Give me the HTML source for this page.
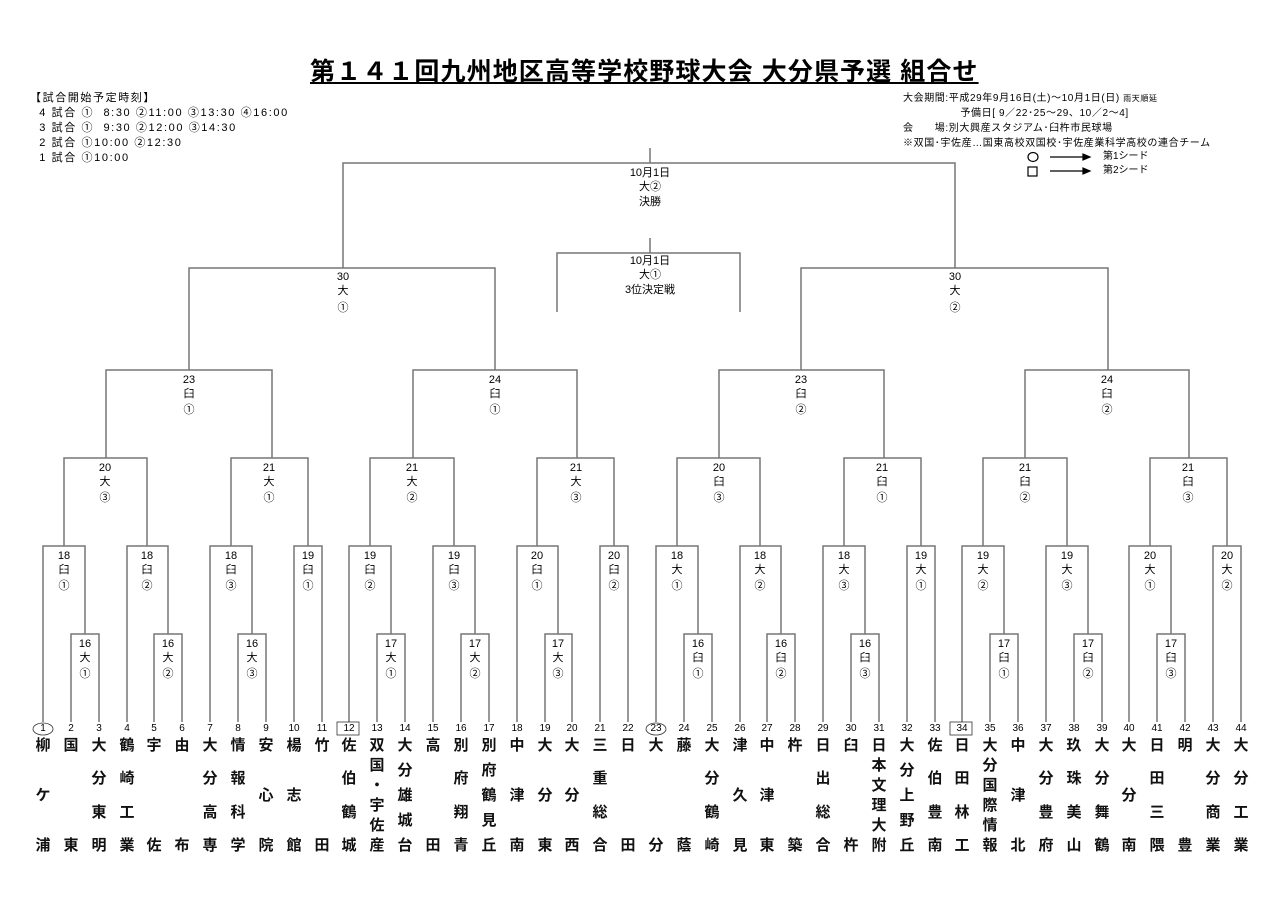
<!DOCTYPE html>
<html><head><meta charset="utf-8"><style>
body{margin:0;background:#fff;width:1283px;height:906px;overflow:hidden;position:relative;font-family:"Liberation Sans","Noto Sans CJK JP",sans-serif;color:#000}
.t{position:absolute;white-space:nowrap}
.nm{position:absolute;top:737px;height:118px;width:24px;display:flex;flex-direction:column;justify-content:space-between;align-items:center;font-size:15px;line-height:18px;font-weight:bold;color:#111}
.nm span{display:block}
.no{position:absolute;top:722px;width:24px;text-align:center;font-size:10px;line-height:14px}
</style></head><body>
<div class="t" style="left:310px;top:52px;font-size:25px;font-weight:bold;text-decoration:underline;letter-spacing:1.1px">第１４１回九州地区高等学校野球大会 大分県予選 組合せ</div>
<div class="t" style="left:30px;top:91px;font-size:11px;line-height:15px;letter-spacing:1.6px">【試合開始予定時刻】<br>&nbsp;&nbsp;4 試合 ① &nbsp;8:30 ②11:00 ③13:30 ④16:00<br>&nbsp;&nbsp;3 試合 ① &nbsp;9:30 ②12:00 ③14:30<br>&nbsp;&nbsp;2 試合 ①10:00 ②12:30<br>&nbsp;&nbsp;1 試合 ①10:00</div>
<div class="t" style="left:903px;top:91px;font-size:10px;line-height:15px;letter-spacing:0.6px">大会期間:平成29年9月16日(土)～10月1日(日) <span style="font-size:8px">雨天順延</span><br>&nbsp;&nbsp;&nbsp;&nbsp;&nbsp;&nbsp;&nbsp;&nbsp;&nbsp;&nbsp;&nbsp;&nbsp;&nbsp;&nbsp;&nbsp;&nbsp;&nbsp;予備日[ 9／22･25～29、10／2～4]<br>会　　場:別大興産スタジアム･臼杵市民球場<br>※双国･宇佐産…国東高校双国校･宇佐産業科学高校の連合チーム</div>
<div class="t" style="left:1103px;top:150px;font-size:10px;line-height:14px">第1シード<br>第2シード</div>
<svg width="1283" height="906" style="position:absolute;left:0;top:0" font-family="Liberation Sans, Noto Sans CJK JP, sans-serif" font-size="11" text-anchor="middle">
<g fill="none" stroke="#000" stroke-width="1.2">
<ellipse cx="1033" cy="157" rx="5" ry="4.5"/><rect x="1028" y="167" width="9" height="9"/>
<path d="M1050 157H1088M1050 171H1088"/>
<path d="M1083 154L1090 157L1083 160ZM1083 168L1090 171L1083 174Z" fill="#000"/>
</g>
<g fill="none" stroke="#777" stroke-width="1.5">
<path d="M71 722V634H99V722"/><path d="M43 722V546H85V634"/>
<path d="M154 722V634H182V722"/><path d="M127 722V546H168V634"/>
<path d="M64 546V458H147V546"/>
<path d="M238 722V634H266V722"/><path d="M210 722V546H252V634"/>
<path d="M294 722V546H322V722"/><path d="M231 546V458H308V546"/>
<path d="M106 458V370H272V458"/>
<path d="M377 722V634H405V722"/><path d="M349 722V546H391V634"/>
<path d="M461 722V634H489V722"/><path d="M433 722V546H475V634"/>
<path d="M370 546V458H454V546"/>
<path d="M545 722V634H572V722"/><path d="M517 722V546H558V634"/>
<path d="M600 722V546H628V722"/><path d="M537 546V458H614V546"/>
<path d="M413 458V370H577V458"/>
<path d="M189 370V268H495V370"/>
<path d="M343 268V163H955V268M650 163V148"/>
<path d="M557 312V253H740V312M650 253V238"/>
<path d="M684 722V634H712V722"/><path d="M656 722V546H698V634"/>
<path d="M767 722V634H795V722"/><path d="M740 722V546H781V634"/>
<path d="M677 546V458H760V546"/>
<path d="M851 722V634H879V722"/><path d="M823 722V546H865V634"/>
<path d="M907 722V546H935V722"/><path d="M844 546V458H921V546"/>
<path d="M719 458V370H884V458"/>
<path d="M990 722V634H1018V722"/><path d="M962 722V546H1004V634"/>
<path d="M1074 722V634H1102V722"/><path d="M1046 722V546H1088V634"/>
<path d="M983 546V458H1067V546"/>
<path d="M1157 722V634H1185V722"/><path d="M1129 722V546H1171V634"/>
<path d="M1213 722V546H1241V722"/><path d="M1150 546V458H1227V546"/>
<path d="M1025 458V370H1189V458"/>
<path d="M801 370V268H1108V370"/>
</g>
<g fill="none" stroke="#333" stroke-width="0.8">
<ellipse cx="43" cy="729" rx="10" ry="6"/><rect x="337" y="722" width="22" height="13"/>
<ellipse cx="656" cy="729" rx="10" ry="6"/><rect x="950" y="722" width="22" height="13"/>
</g>
<g>
<text x="650" y="176">10月1日</text><text x="650" y="190">大②</text><text x="650" y="205">決勝</text>
<text x="650" y="264">10月1日</text><text x="650" y="278">大①</text><text x="650" y="293">3位決定戦</text>
<text x="343" y="280">30</text><text x="343" y="294">大</text><text x="343" y="311">①</text>
<text x="955" y="280">30</text><text x="955" y="294">大</text><text x="955" y="311">②</text>
<text x="189" y="383">23</text><text x="189" y="397">臼</text><text x="189" y="413">①</text>
<text x="495" y="383">24</text><text x="495" y="397">臼</text><text x="495" y="413">①</text>
<text x="801" y="383">23</text><text x="801" y="397">臼</text><text x="801" y="413">②</text>
<text x="1107" y="383">24</text><text x="1107" y="397">臼</text><text x="1107" y="413">②</text>
<text x="105" y="471">20</text><text x="105" y="485">大</text><text x="105" y="501">③</text>
<text x="269" y="471">21</text><text x="269" y="485">大</text><text x="269" y="501">①</text>
<text x="412" y="471">21</text><text x="412" y="485">大</text><text x="412" y="501">②</text>
<text x="576" y="471">21</text><text x="576" y="485">大</text><text x="576" y="501">③</text>
<text x="719" y="471">20</text><text x="719" y="485">臼</text><text x="719" y="501">③</text>
<text x="882" y="471">21</text><text x="882" y="485">臼</text><text x="882" y="501">①</text>
<text x="1025" y="471">21</text><text x="1025" y="485">臼</text><text x="1025" y="501">②</text>
<text x="1188" y="471">21</text><text x="1188" y="485">臼</text><text x="1188" y="501">③</text>
<text x="64" y="559">18</text><text x="64" y="573">臼</text><text x="64" y="589">①</text>
<text x="147" y="559">18</text><text x="147" y="573">臼</text><text x="147" y="589">②</text>
<text x="231" y="559">18</text><text x="231" y="573">臼</text><text x="231" y="589">③</text>
<text x="308" y="559">19</text><text x="308" y="573">臼</text><text x="308" y="589">①</text>
<text x="370" y="559">19</text><text x="370" y="573">臼</text><text x="370" y="589">②</text>
<text x="454" y="559">19</text><text x="454" y="573">臼</text><text x="454" y="589">③</text>
<text x="537" y="559">20</text><text x="537" y="573">臼</text><text x="537" y="589">①</text>
<text x="614" y="559">20</text><text x="614" y="573">臼</text><text x="614" y="589">②</text>
<text x="677" y="559">18</text><text x="677" y="573">大</text><text x="677" y="589">①</text>
<text x="760" y="559">18</text><text x="760" y="573">大</text><text x="760" y="589">②</text>
<text x="844" y="559">18</text><text x="844" y="573">大</text><text x="844" y="589">③</text>
<text x="921" y="559">19</text><text x="921" y="573">大</text><text x="921" y="589">①</text>
<text x="983" y="559">19</text><text x="983" y="573">大</text><text x="983" y="589">②</text>
<text x="1067" y="559">19</text><text x="1067" y="573">大</text><text x="1067" y="589">③</text>
<text x="1150" y="559">20</text><text x="1150" y="573">大</text><text x="1150" y="589">①</text>
<text x="1227" y="559">20</text><text x="1227" y="573">大</text><text x="1227" y="589">②</text>
<text x="85" y="647">16</text><text x="85" y="661">大</text><text x="85" y="677">①</text>
<text x="168" y="647">16</text><text x="168" y="661">大</text><text x="168" y="677">②</text>
<text x="252" y="647">16</text><text x="252" y="661">大</text><text x="252" y="677">③</text>
<text x="391" y="647">17</text><text x="391" y="661">大</text><text x="391" y="677">①</text>
<text x="475" y="647">17</text><text x="475" y="661">大</text><text x="475" y="677">②</text>
<text x="558" y="647">17</text><text x="558" y="661">大</text><text x="558" y="677">③</text>
<text x="698" y="647">16</text><text x="698" y="661">臼</text><text x="698" y="677">①</text>
<text x="781" y="647">16</text><text x="781" y="661">臼</text><text x="781" y="677">②</text>
<text x="865" y="647">16</text><text x="865" y="661">臼</text><text x="865" y="677">③</text>
<text x="1004" y="647">17</text><text x="1004" y="661">臼</text><text x="1004" y="677">①</text>
<text x="1088" y="647">17</text><text x="1088" y="661">臼</text><text x="1088" y="677">②</text>
<text x="1171" y="647">17</text><text x="1171" y="661">臼</text><text x="1171" y="677">③</text>
</g>
</svg>
<div class="no" style="left:31px">1</div><div class="no" style="left:59px">2</div><div class="no" style="left:87px">3</div><div class="no" style="left:115px">4</div><div class="no" style="left:142px">5</div><div class="no" style="left:170px">6</div><div class="no" style="left:198px">7</div><div class="no" style="left:226px">8</div><div class="no" style="left:254px">9</div><div class="no" style="left:282px">10</div><div class="no" style="left:310px">11</div><div class="no" style="left:337px">12</div><div class="no" style="left:365px">13</div><div class="no" style="left:393px">14</div><div class="no" style="left:421px">15</div><div class="no" style="left:449px">16</div><div class="no" style="left:477px">17</div><div class="no" style="left:505px">18</div><div class="no" style="left:533px">19</div><div class="no" style="left:560px">20</div><div class="no" style="left:588px">21</div><div class="no" style="left:616px">22</div><div class="no" style="left:644px">23</div><div class="no" style="left:672px">24</div><div class="no" style="left:700px">25</div><div class="no" style="left:728px">26</div><div class="no" style="left:755px">27</div><div class="no" style="left:783px">28</div><div class="no" style="left:811px">29</div><div class="no" style="left:839px">30</div><div class="no" style="left:867px">31</div><div class="no" style="left:895px">32</div><div class="no" style="left:923px">33</div><div class="no" style="left:950px">34</div><div class="no" style="left:978px">35</div><div class="no" style="left:1006px">36</div><div class="no" style="left:1034px">37</div><div class="no" style="left:1062px">38</div><div class="no" style="left:1090px">39</div><div class="no" style="left:1117px">40</div><div class="no" style="left:1145px">41</div><div class="no" style="left:1173px">42</div><div class="no" style="left:1201px">43</div><div class="no" style="left:1229px">44</div>
<div class="nm" style="left:31px"><span>柳</span><span>ケ</span><span>浦</span></div>
<div class="nm" style="left:59px"><span>国</span><span>東</span></div>
<div class="nm" style="left:87px"><span>大</span><span>分</span><span>東</span><span>明</span></div>
<div class="nm" style="left:115px"><span>鶴</span><span>崎</span><span>工</span><span>業</span></div>
<div class="nm" style="left:142px"><span>宇</span><span>佐</span></div>
<div class="nm" style="left:170px"><span>由</span><span>布</span></div>
<div class="nm" style="left:198px"><span>大</span><span>分</span><span>高</span><span>専</span></div>
<div class="nm" style="left:226px"><span>情</span><span>報</span><span>科</span><span>学</span></div>
<div class="nm" style="left:254px"><span>安</span><span>心</span><span>院</span></div>
<div class="nm" style="left:282px"><span>楊</span><span>志</span><span>館</span></div>
<div class="nm" style="left:310px"><span>竹</span><span>田</span></div>
<div class="nm" style="left:337px"><span>佐</span><span>伯</span><span>鶴</span><span>城</span></div>
<div class="nm" style="left:365px"><span>双</span><span>国</span><span>・</span><span>宇</span><span>佐</span><span>産</span></div>
<div class="nm" style="left:393px"><span>大</span><span>分</span><span>雄</span><span>城</span><span>台</span></div>
<div class="nm" style="left:421px"><span>高</span><span>田</span></div>
<div class="nm" style="left:449px"><span>別</span><span>府</span><span>翔</span><span>青</span></div>
<div class="nm" style="left:477px"><span>別</span><span>府</span><span>鶴</span><span>見</span><span>丘</span></div>
<div class="nm" style="left:505px"><span>中</span><span>津</span><span>南</span></div>
<div class="nm" style="left:533px"><span>大</span><span>分</span><span>東</span></div>
<div class="nm" style="left:560px"><span>大</span><span>分</span><span>西</span></div>
<div class="nm" style="left:588px"><span>三</span><span>重</span><span>総</span><span>合</span></div>
<div class="nm" style="left:616px"><span>日</span><span>田</span></div>
<div class="nm" style="left:644px"><span>大</span><span>分</span></div>
<div class="nm" style="left:672px"><span>藤</span><span>蔭</span></div>
<div class="nm" style="left:700px"><span>大</span><span>分</span><span>鶴</span><span>崎</span></div>
<div class="nm" style="left:728px"><span>津</span><span>久</span><span>見</span></div>
<div class="nm" style="left:755px"><span>中</span><span>津</span><span>東</span></div>
<div class="nm" style="left:783px"><span>杵</span><span>築</span></div>
<div class="nm" style="left:811px"><span>日</span><span>出</span><span>総</span><span>合</span></div>
<div class="nm" style="left:839px"><span>臼</span><span>杵</span></div>
<div class="nm" style="left:867px"><span>日</span><span>本</span><span>文</span><span>理</span><span>大</span><span>附</span></div>
<div class="nm" style="left:895px"><span>大</span><span>分</span><span>上</span><span>野</span><span>丘</span></div>
<div class="nm" style="left:923px"><span>佐</span><span>伯</span><span>豊</span><span>南</span></div>
<div class="nm" style="left:950px"><span>日</span><span>田</span><span>林</span><span>工</span></div>
<div class="nm" style="left:978px"><span>大</span><span>分</span><span>国</span><span>際</span><span>情</span><span>報</span></div>
<div class="nm" style="left:1006px"><span>中</span><span>津</span><span>北</span></div>
<div class="nm" style="left:1034px"><span>大</span><span>分</span><span>豊</span><span>府</span></div>
<div class="nm" style="left:1062px"><span>玖</span><span>珠</span><span>美</span><span>山</span></div>
<div class="nm" style="left:1090px"><span>大</span><span>分</span><span>舞</span><span>鶴</span></div>
<div class="nm" style="left:1117px"><span>大</span><span>分</span><span>南</span></div>
<div class="nm" style="left:1145px"><span>日</span><span>田</span><span>三</span><span>隈</span></div>
<div class="nm" style="left:1173px"><span>明</span><span>豊</span></div>
<div class="nm" style="left:1201px"><span>大</span><span>分</span><span>商</span><span>業</span></div>
<div class="nm" style="left:1229px"><span>大</span><span>分</span><span>工</span><span>業</span></div>
</body></html>
